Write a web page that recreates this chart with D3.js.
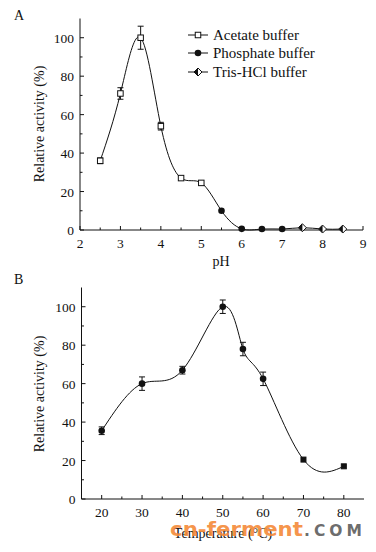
<!DOCTYPE html>
<html><head><meta charset="utf-8">
<script src="https://cdn.jsdelivr.net/npm/d3@7"></script>
<style>body{margin:0;background:#fff}svg{display:block}text.lbl{font-family:"Liberation Serif","Times New Roman",serif;fill:#111}</style>
</head><body><svg id="c" width="376" height="552"></svg>
<script>
// Panel A: pH
const acetatePH = [2.5, 3, 3.5, 4, 4.5, 5];
const acetateVal = [36, 71, 100, 54, 27, 24.5];
const acetateErr = [1.5, 3, 6, 2, 0, 0];
const phosphatePH = [5.5, 6, 6.5, 7];
const phosphateVal = [10, 0.6, 0.5, 0.5];
const trisPH = [7.5, 8, 8.5];
const trisVal = [1.2, 0.5, 0.5];
const legendLabels = ["Acetate buffer", "Phosphate buffer", "Tris-HCl buffer"];
const pHTicks = [2, 3, 4, 5, 6, 7, 8, 9];
const yTicks = [0, 20, 40, 60, 80, 100];
// Panel B: temperature
const temps = [20, 30, 40, 50, 55, 60, 70, 80];
const tempVal = [35.5, 60, 67, 100, 78, 62.5, 20.5, 17];
const tempErr = [2, 3.5, 2, 3.5, 3.5, 3.5, 0, 0];
const tempMarker = ["circle","circle","circle","circle","circle","circle","square","square"];
const tempTicks = [20, 30, 40, 50, 60, 70, 80];

const svg = d3.select("#c");
const ink = "#111";

function axes(g, x, y, xt, xMinor, yMinor) {
  const x0 = x.range()[0], x1 = x.range()[1], y0 = y.range()[0], y1 = y.range()[1];
  g.append("line").attr("x1", x0).attr("x2", x0).attr("y1", y0).attr("y2", y1).attr("stroke", ink);
  g.append("line").attr("x1", x0).attr("x2", x1).attr("y1", y0).attr("y2", y0).attr("stroke", ink);
  xt.forEach(v => g.append("line").attr("x1", x(v)).attr("x2", x(v)).attr("y1", y0).attr("y2", y0 - 4).attr("stroke", ink));
  xMinor.forEach(v => g.append("line").attr("x1", x(v)).attr("x2", x(v)).attr("y1", y0).attr("y2", y0 - 2.5).attr("stroke", ink));
  xt.forEach(v => g.append("text").attr("class","lbl").attr("x", x(v)).attr("y", y0 + 17.5).attr("text-anchor", "middle").attr("font-size", 13.5).text(v));
  yTicks.forEach(v => g.append("line").attr("x1", x0).attr("x2", x0 + 4).attr("y1", y(v)).attr("y2", y(v)).attr("stroke", ink));
  yMinor.forEach(v => g.append("line").attr("x1", x0).attr("x2", x0 + 2.5).attr("y1", y(v)).attr("y2", y(v)).attr("stroke", ink));
  yTicks.forEach(v => g.append("text").attr("class","lbl").attr("x", x0 - 6).attr("y", y(v) + 5).attr("text-anchor", "end").attr("font-size", 13.5).text(v));
}

// ---------- Panel A ----------
const xA = d3.scaleLinear().domain([2, 9]).range([80, 363]);
const yA = d3.scaleLinear().domain([0, 110]).range([230, 18.5]);
const gA = svg.append("g");
axes(gA, xA, yA, pHTicks, [2.5,3.5,4.5,5.5,6.5,7.5,8.5], [10,30,50,70,90]);
gA.append("text").attr("class","lbl").attr("x", 221).attr("y", 266).attr("text-anchor", "middle").attr("font-size", 14).text("pH");
gA.append("text").attr("class","lbl").attr("transform", "translate(44,124) rotate(-90)").attr("text-anchor", "middle").attr("font-size", 14).text("Relative activity (%)");
gA.append("text").attr("class","lbl").attr("x", 14).attr("y", 20).attr("font-size", 14).text("A");

const allA = acetatePH.map((p,i)=>[p, acetateVal[i]])
  .concat(phosphatePH.map((p,i)=>[p, phosphateVal[i]]))
  .concat(trisPH.map((p,i)=>[p, trisVal[i]]));
gA.append("path").attr("d", d3.line().x(d=>xA(d[0])).y(d=>yA(d[1])).curve(d3.curveNatural)(allA))
  .attr("fill", "none").attr("stroke", ink).attr("stroke-width", 1);

function errbar(g, cx, ytop, ybot) {
  g.append("line").attr("x1", cx).attr("x2", cx).attr("y1", ytop).attr("y2", ybot).attr("stroke", ink);
  [ytop, ybot].forEach(yy => g.append("line").attr("x1", cx - 3).attr("x2", cx + 3).attr("y1", yy).attr("y2", yy).attr("stroke", ink));
}
acetatePH.forEach((p,i)=>{ if (acetateErr[i]>0) errbar(gA, xA(p), yA(acetateVal[i]+acetateErr[i]), yA(acetateVal[i]-acetateErr[i])); });

function square(g, cx, cy, filled, s) {
  g.append("rect").attr("x", cx - s/2).attr("y", cy - s/2).attr("width", s).attr("height", s)
    .attr("fill", filled ? ink : "#fff").attr("stroke", ink).attr("stroke-width", 1);
}
function dot(g, cx, cy, r) {
  g.append("circle").attr("cx", cx).attr("cy", cy).attr("r", r).attr("fill", ink);
}
function diamond(g, cx, cy, s) {
  g.append("path").attr("d", `M${cx},${cy-s}L${cx+s},${cy}L${cx},${cy+s}L${cx-s},${cy}Z`).attr("fill", "#fff").attr("stroke", ink);
  g.append("path").attr("d", `M${cx},${cy-s}L${cx-s},${cy}L${cx},${cy+s}Z`).attr("fill", ink);
}
acetatePH.forEach((p,i)=>square(gA, xA(p), yA(acetateVal[i]), false, 5.5));
phosphatePH.forEach((p,i)=>dot(gA, xA(p), yA(phosphateVal[i]), 3.3));
trisPH.forEach((p,i)=>diamond(gA, xA(p), yA(trisVal[i]), 4));

// legend
const legY = [35, 53, 72];
legendLabels.forEach((lab, i) => {
  const lx = 198, ly = legY[i];
  gA.append("line").attr("x1", 188).attr("x2", 208).attr("y1", ly).attr("y2", ly).attr("stroke", ink);
  if (i === 0) square(gA, lx, ly, false, 5.5);
  else if (i === 1) dot(gA, lx, ly, 3.3);
  else diamond(gA, lx, ly, 4);
  gA.append("text").attr("class","lbl").attr("x", 213).attr("y", ly + 5).attr("font-size", 15).text(lab);
});

// ---------- Panel B ----------
const xB = d3.scaleLinear().domain([15, 85]).range([81.5, 364]);
const yB = d3.scaleLinear().domain([0, 110]).range([499, 287.5]);
const gB = svg.append("g");
axes(gB, xB, yB, tempTicks, [25,35,45,55,65,75], [10,30,50,70,90]);
gB.append("text").attr("class","lbl").attr("x", 14).attr("y", 284).attr("font-size", 14).text("B");
gB.append("text").attr("class","lbl").attr("transform", "translate(44,394) rotate(-90)").attr("text-anchor", "middle").attr("font-size", 14).text("Relative activity (%)");
gB.append("text").attr("class","lbl").attr("x", 223).attr("y", 538).attr("text-anchor", "middle").attr("font-size", 14).text("Temperature (°C)");

const allB = temps.map((t,i)=>[t, tempVal[i]]);
gB.append("path").attr("d", d3.line().x(d=>xB(d[0])).y(d=>yB(d[1])).curve(d3.curveNatural)(allB))
  .attr("fill", "none").attr("stroke", ink).attr("stroke-width", 1);
temps.forEach((t,i)=>{ if (tempErr[i]>0) errbar(gB, xB(t), yB(tempVal[i]+tempErr[i]), yB(tempVal[i]-tempErr[i])); });
temps.forEach((t,i)=>{
  if (tempMarker[i] === "square") square(gB, xB(t), yB(tempVal[i]), true, 5);
  else dot(gB, xB(t), yB(tempVal[i]), 3.3);
});

// watermark
svg.append("text").attr("x", 170).attr("y", 536)
  .style("font-family", "'DejaVu Sans', sans-serif").style("font-weight", "bold").style("font-size", "20px")
  .attr("textLength", 133).attr("lengthAdjust", "spacingAndGlyphs")
  .attr("fill", "#f58b3a").attr("fill-opacity", 0.92).text("cn-ferment");
svg.append("text").attr("x", 304).attr("y", 536)
  .style("font-family", "'DejaVu Sans', sans-serif").style("font-weight", "bold").style("font-size", "15.5px")
  .attr("textLength", 58).attr("lengthAdjust", "spacing")
  .attr("fill", "#5e5e5e").attr("fill-opacity", 0.92).text(".COM");
</script></body></html>
